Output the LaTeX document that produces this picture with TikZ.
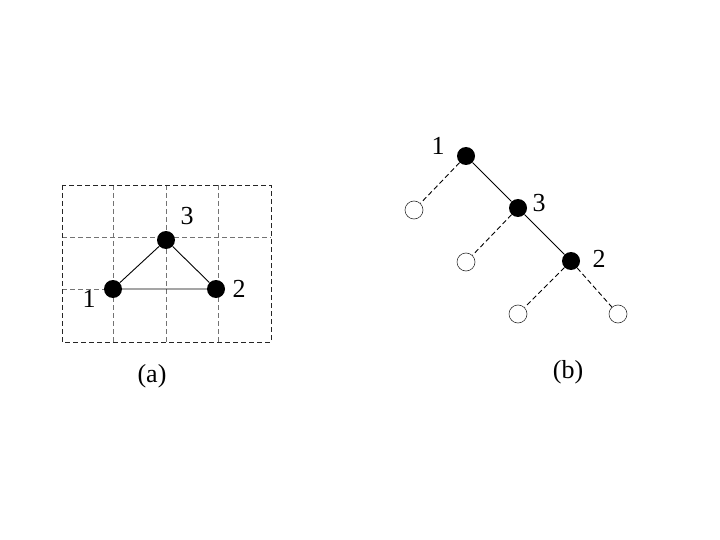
\documentclass[tikz,border=0pt]{standalone}
\usepackage{fontspec}
\setmainfont{Liberation Serif}
\begin{document}
\begin{tikzpicture}[x=1pt,y=-1pt,
  full/.style={circle,fill=black,inner sep=0pt,minimum size=18pt},
  empty/.style={circle,draw=black!80,line width=0.6pt,fill=white,inner sep=0pt,minimum size=18pt},
  lab/.style={font=\fontsize{26}{30}\selectfont,inner sep=0pt},
  gridline/.style={dashed,black!55,line width=0.8pt,dash pattern=on 5pt off 3pt},
  border/.style={dashed,black!85,line width=0.8pt,dash pattern=on 5pt off 3pt},
  edge/.style={line width=0.9pt},
  dedge/.style={line width=0.9pt,dash pattern=on 5pt off 3pt}]
\useasboundingbox (0,0) rectangle (720,540);
% (a) grid
\draw[gridline] (113,185) -- (113,342);
\draw[gridline] (166,185) -- (166,342);
\draw[gridline] (218,185) -- (218,342);
\draw[gridline] (62,237) -- (271,237);
\draw[gridline] (62,289) -- (113,289);
\draw[border] (62,185) rectangle (271,342);
% (a) nodes
\node[full] (a1) at (113,289) {};
\node[full] (a3) at (166,240) {};
\node[full] (a2) at (216,289) {};
\draw[edge] (a1) -- (a3) -- (a2) -- (a1);
\node[lab] (la3) at (187,216) {3};
\node[lab] (la2) at (239,289) {2};
\node[lab] (la1) at (89,299) {1};
\node[lab] (capa) at (152,376) {(a)};
% (b) tree
\node[full] (b1) at (466,156) {};
\node[full] (b3) at (518,208) {};
\node[full] (b2) at (571,261) {};
\node[empty] (e1) at (414,210) {};
\node[empty] (e2) at (466,262) {};
\node[empty] (e3) at (518,314) {};
\node[empty] (e4) at (618,314) {};
\draw[edge] (b1) -- (b3) -- (b2);
\draw[dedge] (b1) -- (e1);
\draw[dedge] (b3) -- (e2);
\draw[dedge] (b2) -- (e3);
\draw[dedge] (b2) -- (e4);
\node[lab] (lb1) at (438,146) {1};
\node[lab] (lb3) at (539,203) {3};
\node[lab] (lb2) at (599,259) {2};
\node[lab] (capb) at (568,372) {(b)};
\end{tikzpicture}
\end{document}
